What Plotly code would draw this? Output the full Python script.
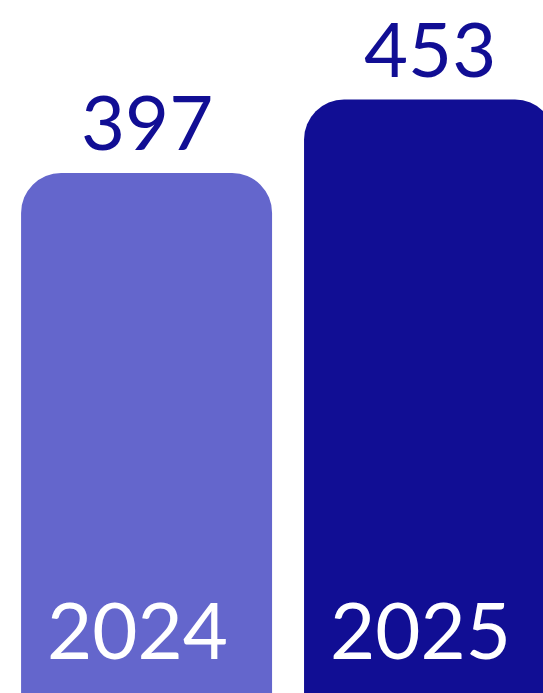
import plotly.graph_objects as go

years = ["2024", "2025"]
values = [397, 453]
colors = ["#6466CC", "#110E94"]
label_color = "#110E94"

fig = go.Figure()
fig.add_trace(go.Bar(
    x=years, y=values, marker=dict(color=colors, line=dict(width=0)),
    width=0.887, hoverinfo="skip",
))

for i, (yr, v) in enumerate(zip(years, values)):
    fig.add_annotation(x=i, y=v, text=str(v), showarrow=False,
                       yanchor="middle", yshift=52,
                       font=dict(family="Lato", size=76, color=label_color))
    fig.add_annotation(x=i, y=0, text=yr, showarrow=False,
                       yanchor="middle", yshift=64, xshift=-9,
                       font=dict(family="Lato", size=78, color="white"))

fig.update_layout(
    width=543, height=693,
    margin=dict(l=0, r=0, t=0, b=0),
    paper_bgcolor="white", plot_bgcolor="white",
    barcornerradius=40,
    showlegend=False,
    xaxis=dict(type="category", range=[-0.518, 1.401], visible=False),
    yaxis=dict(range=[0, 529], visible=False),
)
fig.write_html("out.html", config={"displayModeBar": False},
               post_script="document.body.style.margin='0';document.body.style.overflow='hidden';")
